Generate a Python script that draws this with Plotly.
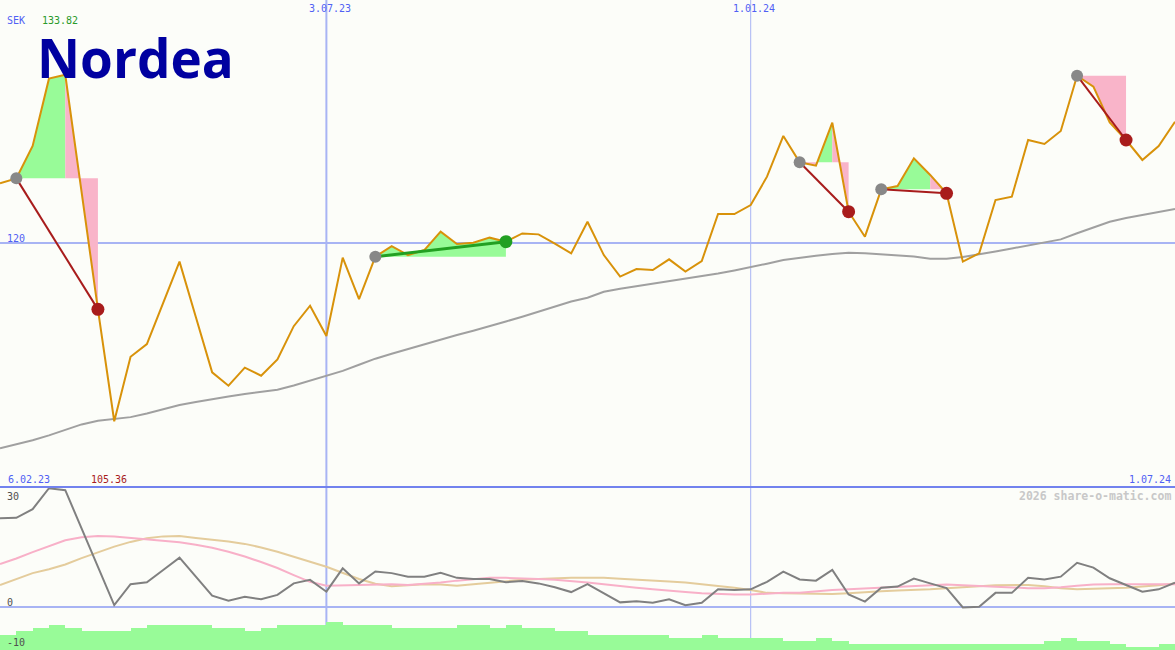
import pandas as pd
import plotly.graph_objects as go

# weekly closes, Nordea (SEK)
dates = pd.date_range("2023-02-13", periods=73, freq="7D")

close = [
    124.90, 125.31, 127.97, 133.50, 133.82, 124.00, 114.55, 105.36, 110.66, 111.70,
    115.10, 118.47, 113.92, 109.38, 108.28, 109.76, 109.10, 110.44, 113.17, 114.85,
    112.36, 118.80, 115.40, 118.88, 119.75, 119.01, 119.42, 120.93, 119.92, 120.03,
    120.44, 120.11, 120.79, 120.71, 119.95, 119.15, 121.75, 119.01, 117.24, 117.86,
    117.78, 118.66, 117.65, 118.52, 122.38, 122.38, 123.12, 125.45, 128.79, 126.63,
    126.35, 129.88, 122.57, 120.52, 124.41, 124.68, 126.96, 125.59, 124.08, 118.47,
    119.15, 123.53, 123.80, 128.46, 128.13, 129.20, 133.74, 132.84, 129.91, 128.46,
    126.82, 127.97, 129.96,
]

long_avg = [
    103.14, 103.45, 103.80, 104.20, 104.65, 105.10, 105.40, 105.55, 105.70, 106.00,
    106.35, 106.70, 106.95, 107.20, 107.40, 107.60, 107.80, 107.95, 108.30, 108.70,
    109.05, 109.50, 110.00, 110.50, 110.90, 111.30, 111.70, 112.05, 112.45, 112.80,
    113.15, 113.55, 113.95, 114.35, 114.80, 115.20, 115.50, 116.00, 116.25, 116.45,
    116.65, 116.85, 117.05, 117.25, 117.50, 117.75, 118.00, 118.30, 118.60, 118.80,
    118.95, 119.10, 119.20, 119.15, 119.05, 119.00, 118.90, 118.70, 118.70, 118.85,
    119.05, 119.30, 119.55, 119.80, 120.10, 120.30, 120.80, 121.30, 121.75, 122.05,
    122.30, 122.55, 122.80,
]

osc = [
    22.6, 22.7, 24.9, 30.2, 29.7, 20.0, 10.3, 0.6, 5.9, 6.4,
    9.5, 12.6, 7.8, 3.0, 1.7, 2.7, 2.1, 3.2, 6.1, 7.0,
    4.0, 9.9, 6.1, 9.1, 8.7, 7.8, 7.8, 8.8, 7.5, 7.2,
    7.2, 6.4, 6.7, 6.1, 5.1, 3.9, 5.9, 3.6, 1.3, 1.6,
    1.2, 2.1, 0.6, 1.2, 4.6, 4.4, 4.6, 6.5, 9.1, 7.1,
    6.8, 9.5, 3.3, 1.5, 5.0, 5.3, 7.3, 6.1, 4.9, 0.0,
    0.2, 3.7, 3.7, 7.5, 7.1, 7.8, 11.3, 10.1, 7.4, 5.7,
    4.0, 4.6, 6.3,
]

osc_fast = [
    11.0, 12.4, 14.0, 15.6, 17.0, 17.8, 18.1, 18.0, 17.6, 17.3,
    16.9, 16.5, 15.9, 15.1, 14.1, 12.9, 11.5, 10.0, 8.2, 6.5,
    5.5, 5.6, 5.8, 5.9, 5.9, 5.7, 6.0, 6.3, 6.8, 7.2,
    7.5, 7.5, 7.4, 7.2, 7.0, 6.7, 6.3, 5.9, 5.4, 5.0,
    4.6, 4.2, 3.9, 3.6, 3.4, 3.3, 3.3, 3.5, 3.7, 3.7,
    4.1, 4.4, 4.6, 4.8, 5.0, 5.2, 5.5, 5.7, 5.8, 5.6,
    5.4, 5.2, 5.0, 4.9, 4.9, 5.1, 5.5, 5.8, 5.9, 5.9,
    5.9, 5.9, 5.9,
]

osc_slow = [
    5.7, 7.3, 8.7, 9.7, 10.9, 12.5, 14.0, 15.4, 16.6, 17.5,
    18.0, 18.1, 17.6, 17.2, 16.7, 16.1, 15.2, 14.1, 12.9, 11.6,
    10.3, 8.7, 7.2, 6.0, 5.4, 5.6, 5.9, 5.8, 5.5, 5.9,
    6.3, 6.7, 7.0, 7.2, 7.4, 7.5, 7.5, 7.5, 7.3, 7.1,
    6.9, 6.6, 6.3, 5.9, 5.5, 5.0, 4.4, 3.7, 3.6, 3.5,
    3.4, 3.4, 3.6, 3.9, 4.1, 4.3, 4.4, 4.6, 4.9, 5.2,
    5.4, 5.6, 5.7, 5.7, 5.4, 4.9, 4.6, 4.7, 4.9, 5.0,
    5.3, 5.6, 6.1,
]

strength = [
    5, 6, 7, 8, 7, 6, 6, 6, 7, 8,
    8, 8, 8, 7, 7, 6, 7, 8, 8, 8,
    9, 8, 8, 8, 7, 7, 7, 7, 8, 8,
    7, 8, 7, 7, 6, 6, 5, 5, 5, 5,
    5, 4, 4, 5, 4, 4, 4, 4, 3, 3,
    4, 3, 2, 2, 2, 2, 2, 2, 2, 2,
    2, 2, 2, 2, 3, 4, 3, 3, 2, 1,
    1, 2, 2,
]

# signals: entry index, exit index, green / pink fill stretches
trades = [
    dict(entry=1, exit=6, green=[(1, 4)], pink=[(4, 6)]),
    dict(entry=23, exit=31, green=[(23, 31)], pink=[]),
    dict(entry=49, exit=52, green=[(50, 51)], pink=[(49, 50), (51, 52)]),
    dict(entry=54, exit=58, green=[(54, 57)], pink=[(57, 58)]),
    dict(entry=66, exit=69, green=[], pink=[(66, 69)]),
]

BLUE_TXT = "#5060f4"
GRID = "#a8b4f4"
FILL_GREEN = "#98fb98"
FILL_PINK = "#f9b4c9"
RED = "#a81c1c"
GREEN = "#22a022"
FONT = "DejaVu Sans Mono"

split = 163 / 650
fig = go.Figure()


def band(i0, i1, level, color):
    xs = list(dates[i0:i1 + 1])
    ys = close[i0:i1 + 1]
    fig.add_trace(go.Scatter(
        x=xs + xs[::-1], y=ys + [level] * len(xs),
        fill="toself", fillcolor=color, mode="lines",
        line=dict(width=0), hoverinfo="skip",
    ))


for t in trades:
    lvl = close[t["entry"]]
    for a, b in t["green"]:
        band(a, b, lvl, FILL_GREEN)
    for a, b in t["pink"]:
        band(a, b, lvl, FILL_PINK)

fig.add_trace(go.Scatter(x=dates, y=long_avg, mode="lines",
                         line=dict(color="#a0a0a0", width=2)))
fig.add_trace(go.Scatter(x=dates, y=close, mode="lines",
                         line=dict(color="#d8920a", width=2)))

for t in trades:
    e, x = t["entry"], t["exit"]
    win = close[x] > close[e]
    col = GREEN if win else RED
    fig.add_trace(go.Scatter(x=[dates[e], dates[x]], y=[close[e], close[x]],
                             mode="lines", line=dict(color=col, width=3 if win else 2)))
    fig.add_trace(go.Scatter(x=[dates[e]], y=[close[e]], mode="markers",
                             marker=dict(color="#888888", size=12)))
    fig.add_trace(go.Scatter(x=[dates[x]], y=[close[x]], mode="markers",
                             marker=dict(color=col, size=13)))

# lower panel
fig.add_trace(go.Bar(x=dates, y=strength, yaxis="y3", marker_color=FILL_GREEN,
                     marker_line_width=0, width=7 * 86400000, offset=0))
fig.add_trace(go.Scatter(x=dates, y=osc_slow, yaxis="y2", mode="lines",
                         line=dict(color="#e4cc9c", width=2)))
fig.add_trace(go.Scatter(x=dates, y=osc_fast, yaxis="y2", mode="lines",
                         line=dict(color="#f8b0c8", width=2)))
fig.add_trace(go.Scatter(x=dates, y=osc, yaxis="y2", mode="lines",
                         line=dict(color="#808080", width=2)))

fig.add_shape(type="line", xref="x", yref="paper", x0="2023-07-03", x1="2023-07-03",
              y0=0, y1=1, line=dict(color=GRID, width=2), layer="below")
fig.add_shape(type="line", xref="x", yref="paper", x0="2024-01-01", x1="2024-01-01",
              y0=0, y1=1, line=dict(color=GRID, width=1), layer="below")
fig.add_shape(type="line", xref="paper", yref="paper", x0=0, x1=1, y0=split, y1=split,
              line=dict(color="#7282ee", width=2))


def label(text, x, y, color, anchor="left", size=10, bold=False):
    fig.add_annotation(
        text=f"<b>{text}</b>" if bold else text,
        x=x / 1175, y=1 - y / 650, xref="paper", yref="paper",
        xanchor=anchor, yanchor="middle", showarrow=False,
        font=dict(family=FONT, size=size, color=color),
    )


label("SEK", 5, 21, BLUE_TXT)
label(f"{max(close):.2f}", 40, 21, "#2a9a2a")
label("3.07.23", 330, 9, BLUE_TXT, "center")
label("1.01.24", 754, 9, BLUE_TXT, "center")
label("120", 5, 238, BLUE_TXT)
label("6.02.23", 6, 479, BLUE_TXT)
label(f"{min(close):.2f}", 89, 479, RED)
label("1.07.24", 1173, 479, BLUE_TXT, "right")
label("2026 share-o-matic.com", 1173, 496, "#c8c8c8", "right", 11.5, True)
label("30", 5, 496, "#505050")
label("0", 5, 602, "#505050")
label("-10", 5, 642, "#505050")

fig.add_annotation(
    text="<b>Nordea</b>", x=35 / 1175, y=1 - 58 / 650, xref="paper", yref="paper",
    xanchor="left", yanchor="middle", showarrow=False,
    font=dict(family="Open Sans", size=53, color="#0000a0"),
)

fig.update_layout(
    width=1175, height=650,
    margin=dict(l=0, r=0, t=0, b=0),
    paper_bgcolor="#fcfdf9", plot_bgcolor="#fcfdf9",
    showlegend=False, hovermode=False,
    xaxis=dict(range=[dates[0], dates[-1]], showgrid=False, zeroline=False,
               showticklabels=False, ticks=""),
    yaxis=dict(domain=[split, 1], range=[99.96, 139.96], tickvals=[120],
               showgrid=True, gridcolor=GRID, gridwidth=2, zeroline=False,
               showticklabels=False, ticks=""),
    yaxis2=dict(domain=[0, split], range=[-10.76, 30.5], tickvals=[0],
                showgrid=True, gridcolor=GRID, gridwidth=2, zeroline=False,
                showticklabels=False, ticks=""),
    yaxis3=dict(overlaying="y2", range=[0, 52.6], visible=False),
    bargap=0,
)

fig.write_html("out.html", config={"displayModeBar": False},
               post_script="document.body.style.margin = '0';")
